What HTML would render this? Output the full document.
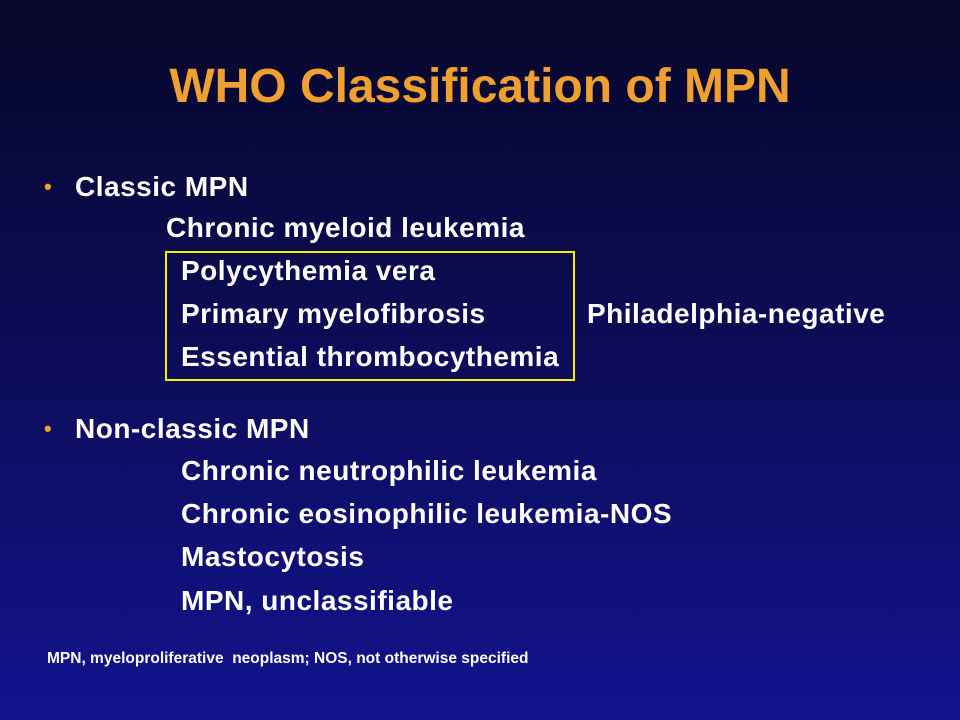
<!DOCTYPE html>
<html>
<head>
<meta charset="utf-8">
<style>
  html,body{margin:0;padding:0;}
  body{width:960px;height:720px;overflow:hidden;position:relative;
    background:linear-gradient(to bottom,#07072a 0%,#0c0c55 45%,#13138e 100%);
    font-family:"Liberation Sans",Arial,sans-serif;}
  .t{position:absolute;color:#fff;font-weight:bold;font-size:28px;letter-spacing:0.5px;line-height:32px;white-space:nowrap;}
  .bullet{position:absolute;color:#f0a030;font-size:22px;line-height:32px;font-weight:bold;}
</style>
</head>
<body>
  <div style="position:absolute;left:0;width:960px;top:58px;text-align:center;color:#f0a030;font-weight:bold;font-size:48px;line-height:58px;">WHO Classification of MPN</div>

  <div class="bullet" style="left:44px;top:171px;">•</div>
  <div class="t" style="left:75px;top:171px;">Classic MPN</div>
  <div class="t" style="left:166px;top:212px;">Chronic myeloid leukemia</div>

  <div style="position:absolute;left:165px;top:251px;width:406px;height:126px;border:2px solid #f5f000;"></div>
  <div class="t" style="left:181px;top:255px;">Polycythemia vera</div>
  <div class="t" style="left:181px;top:298px;">Primary myelofibrosis</div>
  <div class="t" style="left:181px;top:341px;">Essential thrombocythemia</div>
  <div class="t" style="left:587px;top:298px;">Philadelphia-negative</div>

  <div class="bullet" style="left:44px;top:413px;">•</div>
  <div class="t" style="left:75px;top:413px;">Non-classic MPN</div>
  <div class="t" style="left:181px;top:455px;">Chronic neutrophilic leukemia</div>
  <div class="t" style="left:181px;top:498px;">Chronic eosinophilic leukemia-NOS</div>
  <div class="t" style="left:181px;top:541px;">Mastocytosis</div>
  <div class="t" style="left:181px;top:585px;">MPN, unclassifiable</div>

  <div style="position:absolute;left:47px;top:649px;color:#fff;font-weight:bold;font-size:15.5px;line-height:20px;white-space:nowrap;">MPN, myeloproliferative&nbsp; neoplasm; NOS, not otherwise specified</div>
</body>
</html>
